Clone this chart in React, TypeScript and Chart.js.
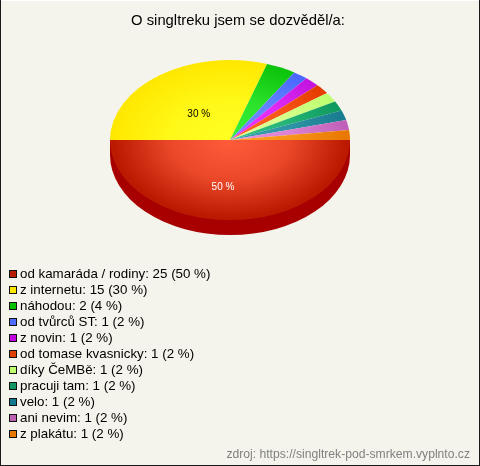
import { useEffect, useRef } from "react";
import { Chart, registerables } from "chart.js";

Chart.register(...registerables);

const chartTitle = "O singltreku jsem se dozvěděl/a:";
const footer = "zdroj: https://singltrek-pod-smrkem.vyplnto.cz";
const categories = [
  "od kamaráda / rodiny", "z internetu", "náhodou", "od tvůrců ST", "z novin",
  "od tomase kvasnicky", "díky ČeMBě", "pracuji tam", "velo", "ani nevim", "z plakátu",
];
const counts = [25, 15, 2, 1, 1, 1, 1, 1, 1, 1, 1];
const percents = [50, 30, 4, 2, 2, 2, 2, 2, 2, 2, 2];
const edgeColors = [
  "#bb1a00", "#ffe800", "#0cc40c", "#4a68ff", "#c414e0", "#e63c00",
  "#bcff70", "#0f9a60", "#1a7c90", "#c060b8", "#e87800",
];
const innerColors = [
  "#ff5c3c", "#ffff22", "#38f038", "#6c90ff", "#ee36ff", "#ff6422",
  "#e4ff98", "#30c080", "#38a0b0", "#e890e0", "#ffa024",
];
const swatchColors = [
  "#b81c00", "#ffe800", "#00c000", "#4d6cff", "#c000e0", "#e04000",
  "#c0ff70", "#109860", "#107890", "#c060b0", "#e87800",
];

const BG = "#f5f4ec";
const FONT = '"Liberation Sans", Arial, sans-serif';
const SQUASH = 2 / 3;
const DEPTH = 15;

function mix(a: string, b: string, t: number) {
  const ch = (s: string, i: number) => parseInt(s.slice(1 + i * 2, 3 + i * 2), 16);
  const v = [0, 1, 2].map((i) => Math.round(ch(a, i) * (1 - t) + ch(b, i) * t));
  return `rgb(${v[0]},${v[1]},${v[2]})`;
}

const pie3d = {
  id: "pie3d",
  beforeDraw(chart: any) {
    const { ctx, width, height } = chart;
    ctx.save();
    ctx.fillStyle = BG;
    ctx.fillRect(0, 0, width, height);
    ctx.fillStyle = "#ffffff";
    ctx.fillRect(0, 0, width, 1);
    ctx.fillStyle = "#1a1a1a";
    ctx.fillRect(0, 0, 1, height);
    ctx.fillRect(width - 1, 0, 1, height);
    ctx.fillRect(0, height - 1, width, 1);
    ctx.restore();
  },
  beforeDatasetsDraw(chart: any) {
    const { ctx } = chart;
    const el = chart.getDatasetMeta(0).data[0];
    const { x, y, outerRadius: r } = el;
    ctx.save();
    ctx.fillStyle = "#a80000";
    ctx.beginPath();
    ctx.ellipse(x, y + DEPTH, r, r * SQUASH, 0, 0, Math.PI);
    ctx.lineTo(x - r, y);
    ctx.lineTo(x + r, y);
    ctx.closePath();
    ctx.fill();
    ctx.restore();
    ctx.save();
    ctx.translate(x, y);
    ctx.scale(1, SQUASH);
    ctx.translate(-x, -y);
  },
  afterDatasetsDraw(chart: any) {
    const { ctx, width, height } = chart;
    ctx.restore();
    const meta = chart.getDatasetMeta(0);
    const { y: cy } = meta.data[0];
    ctx.save();
    ctx.textBaseline = "middle";
    ctx.textAlign = "center";
    ctx.font = `14.8px ${FONT}`;
    ctx.fillStyle = "#000";
    ctx.fillText(chartTitle, 238, 21);

    ctx.font = `10px ${FONT}`;
    [0, 1].forEach((i) => {
      const p = meta.data[i].tooltipPosition();
      const lx = p.x + (i === 0 ? -7 : 4);
      const ly = cy + (p.y - cy) * SQUASH + 7;
      ctx.fillStyle = i === 0 ? "#fff" : "#000";
      ctx.fillText(`${percents[i]} %`, lx, ly);
    });

    ctx.textAlign = "left";
    ctx.font = `13.33px ${FONT}`;
    categories.forEach((name, i) => {
      const rowY = 274 + i * 16;
      ctx.fillStyle = swatchColors[i];
      ctx.fillRect(9, rowY - 4, 8, 8);
      ctx.strokeStyle = "#111";
      ctx.lineWidth = 1;
      ctx.strokeRect(9.5, rowY - 3.5, 7, 7);
      ctx.fillStyle = "#000";
      ctx.fillText(`${name}: ${counts[i]} (${percents[i]} %)`, 20, rowY + 0.5);
    });

    ctx.textAlign = "right";
    ctx.font = `12.15px ${FONT}`;
    ctx.fillStyle = "#808080";
    ctx.fillText(footer, width - 10, height - 11);
    ctx.restore();
  },
};

export default function App() {
  const ref = useRef<HTMLCanvasElement>(null);
  useEffect(() => {
    const chart = new Chart(ref.current!, {
      type: "pie",
      data: {
        labels: categories,
        datasets: [
          {
            data: counts,
            borderWidth: 0,
            backgroundColor: (c: any) => {
              const a = c.chart.chartArea;
              const i = c.dataIndex;
              if (!a) return edgeColors[i];
              const x = (a.left + a.right) / 2;
              const y = (a.top + a.bottom) / 2;
              const r = (a.right - a.left) / 2;
              const g = c.chart.ctx.createRadialGradient(x, y, 0, x, y, r);
              g.addColorStop(0, innerColors[i]);
              g.addColorStop(0.5, mix(innerColors[i], edgeColors[i], 0.3));
              g.addColorStop(0.97, edgeColors[i]);
              g.addColorStop(1, edgeColors[i]);
              return g;
            },
          },
        ],
      },
      options: {
        animation: false,
        responsive: false,
        devicePixelRatio: 1,
        rotation: 90,
        layout: { padding: { left: 110, right: 130, top: 20, bottom: 206 } },
        plugins: {
          legend: { display: false },
          title: { display: false },
          tooltip: { enabled: false },
        },
      },
      plugins: [pie3d],
    } as any);
    return () => chart.destroy();
  }, []);
  return (
    <div style={{ position: "absolute", left: 0, top: 0, width: 480, height: 466 }}>
      <canvas ref={ref} width={480} height={466} style={{ display: "block" }} />
    </div>
  );
}
